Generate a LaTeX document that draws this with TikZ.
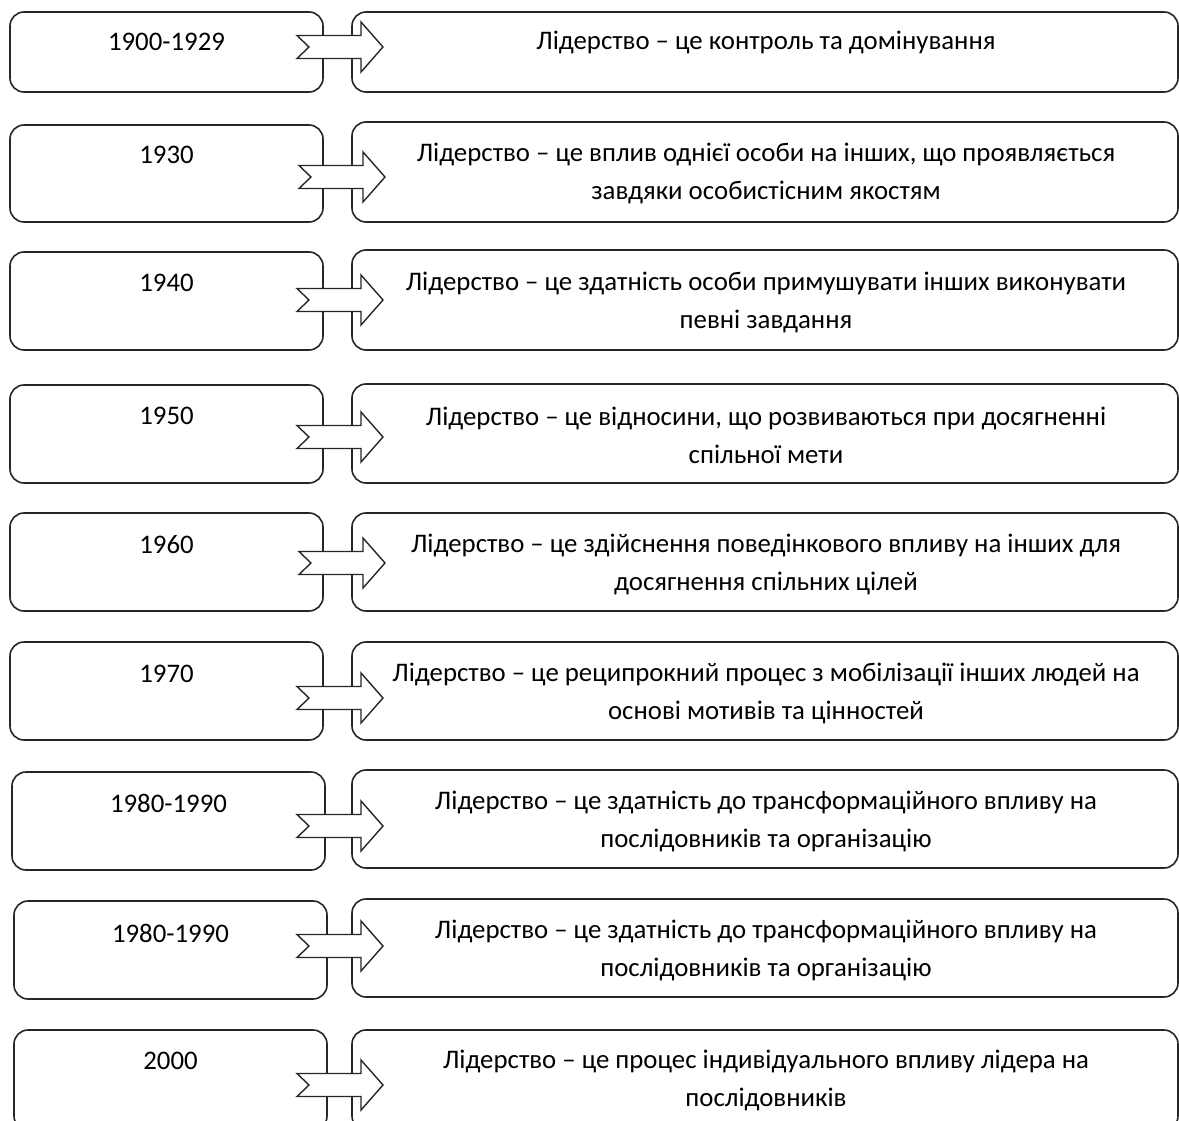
\documentclass[tikz,border=0pt]{standalone}
\usepackage{fontspec}
\setmainfont{Carlito}
\usepackage{tikz}
\usetikzlibrary{positioning, calc}
\tikzstyle{yearbox} = [rectangle, rounded corners=14pt, draw=black!85, line width=1.6pt, minimum width=313pt, inner sep=0pt]
\tikzstyle{defbox} = [rectangle, rounded corners=14pt, draw=black!85, line width=1.6pt, minimum width=826pt, inner sep=0pt]
\tikzstyle{txt} = [align=center, inner sep=0pt, font=\fontsize{26.8}{38}\selectfont]
\tikzstyle{arrowshape} = [draw=black!85, line width=1.4pt, fill=white, line join=miter]
\tikzset{fatarrow/.pic={\draw[arrowshape] (-86,-11.5) -- (-74,0) -- (-86,11.5) -- (-22,11.5) -- (-22,25) -- (0,0) -- (-22,-25) -- (-22,-11.5) -- cycle;}}

\begin{document}
\begin{tikzpicture}[x=1pt, y=-1pt]
\useasboundingbox (0,0) rectangle (1179,1121);
\clip (0,0) rectangle (1179,1121);

% 1900-1929
\node (y1) [yearbox, minimum height=80pt] at (166.5,52) {};
\node (d1) [defbox, minimum height=80pt] at (765,52) {};
\node (y1t) [txt] at (166.5,42) {1900-1929};
\node (d1t) [txt] at (766,42) {Лідерство – це контроль та домінування};
\pic at (383,47) {fatarrow};

% 1930
\node (y2) [yearbox, minimum height=97pt] at (166.5,173.5) {};
\node (d2) [defbox, minimum height=100pt] at (765,172) {};
\node (y2t) [txt] at (166.5,155) {1930};
\node (d2t) [txt] at (766,173) {Лідерство – це вплив однієї особи на інших, що проявляється\\завдяки особистісним якостям};
\pic at (385,177) {fatarrow};

% 1940
\node (y3) [yearbox, minimum height=98pt] at (166.5,301) {};
\node (d3) [defbox, minimum height=100pt] at (765,300) {};
\node (y3t) [txt] at (166.5,283) {1940};
\node (d3t) [txt] at (766,302) {Лідерство – це здатність особи примушувати інших виконувати\\певні завдання};
\pic at (383,300) {fatarrow};

% 1950
\node (y4) [yearbox, minimum height=98pt] at (166.5,434) {};
\node (d4) [defbox, minimum height=99pt] at (765,433.5) {};
\node (y4t) [txt] at (166.5,416) {1950};
\node (d4t) [txt] at (766,435) {Лідерство – це відносини, що розвиваються при досягненні\\спільної мети};
\pic at (383,437) {fatarrow};

% 1960
\node (y5) [yearbox, minimum height=98pt] at (166.5,562) {};
\node (d5) [defbox, minimum height=98pt] at (765,562) {};
\node (y5t) [txt] at (166.5,545) {1960};
\node (d5t) [txt] at (766,564.5) {Лідерство – це здійснення поведінкового впливу на інших для\\досягнення спільних цілей};
\pic at (385,563) {fatarrow};

% 1970
\node (y6) [yearbox, minimum height=98pt] at (166.5,691) {};
\node (d6) [defbox, minimum height=98pt] at (765,691) {};
\node (y6t) [txt] at (166.5,674) {1970};
\node (d6t) [txt] at (766,693) {Лідерство – це реципрокний процес з мобілізації інших людей на\\основі мотивів та цінностей};
\pic at (383,698) {fatarrow};

% 1980-1990
\node (y7) [yearbox, minimum height=98pt] at (168.5,821) {};
\node (d7) [defbox, minimum height=98pt] at (765,819) {};
\node (y7t) [txt] at (168.5,803) {1980-1990};
\node (d7t) [txt] at (766,821) {Лідерство – це здатність до трансформаційного впливу на\\послідовників та організацію};
\pic at (383,826) {fatarrow};

% 1980-1990 (repeated)
\node (y8) [yearbox, minimum height=98pt] at (170.5,950) {};
\node (d8) [defbox, minimum height=98pt] at (765,948) {};
\node (y8t) [txt] at (170.5,933) {1980-1990};
\node (d8t) [txt] at (766,950) {Лідерство – це здатність до трансформаційного впливу на\\послідовників та організацію};
\pic at (383,946) {fatarrow};

% 2000
\node (y9) [yearbox, minimum height=100pt] at (170.5,1080) {};
\node (d9) [defbox, minimum height=100pt] at (765,1080) {};
\node (y9t) [txt] at (170.5,1061) {2000};
\node (d9t) [txt] at (766,1080) {Лідерство – це процес індивідуального впливу лідера на\\послідовників};
\pic at (383,1085) {fatarrow};

\end{tikzpicture}
\end{document}
